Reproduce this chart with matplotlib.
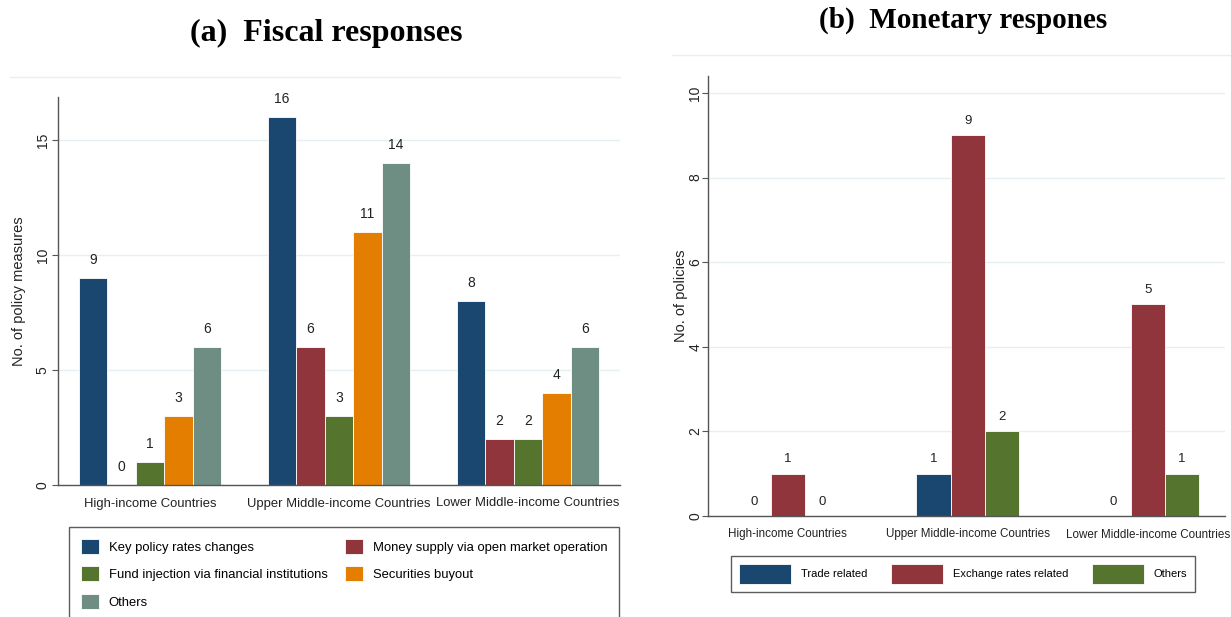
import matplotlib.pyplot as plt
import numpy as np
from matplotlib.lines import Line2D

plt.rcParams['font.family'] = ['Liberation Sans', 'DejaVu Sans']

groups = ["High-income Countries", "Upper Middle-income Countries", "Lower Middle-income Countries"]

# (a) fiscal responses
fiscal_series = ["Key policy rates changes", "Money supply via open market operation",
                 "Fund injection via financial institutions", "Securities buyout", "Others"]
key_rates = [9, 16, 8]
money_supply = [0, 6, 2]
fund_injection = [1, 3, 2]
securities = [3, 11, 4]
fiscal_others = [6, 14, 6]

# (b) monetary responses
monetary_series = ["Trade related", "Exchange rates related", "Others"]
trade = [0, 1, 0]
exchange = [1, 9, 5]
monetary_others = [0, 2, 1]

navy = "#1a476f"
maroon = "#90353b"
green = "#55752f"
orange = "#e37e00"
teal = "#6e8e84"
grid_c = "#e6eff1"

W, H = 1231, 617
fig = plt.figure(figsize=(W / 100, H / 100), dpi=100)
fig.patch.set_facecolor("white")


def px_axes(x0, x1, ytop, ybot):
    return fig.add_axes([x0 / W, 1 - ybot / H, (x1 - x0) / W, (ybot - ytop) / H])


def style(ax, ticks, ylab, fs, lfs, tpad, ypad):
    for s in ["top", "right"]:
        ax.spines[s].set_visible(False)
    for s in ["left", "bottom"]:
        ax.spines[s].set_color("#555555")
        ax.spines[s].set_linewidth(1.0)
    ax.set_yticks(ticks)
    ax.set_yticklabels([str(t) for t in ticks], rotation=90, va="center", fontsize=fs, color="#222222")
    ax.yaxis.grid(True, color=grid_c, linewidth=1.0)
    ax.set_axisbelow(True)
    ax.tick_params(axis="y", length=4, color="#555555", pad=tpad)
    ax.tick_params(axis="x", length=0, pad=9)
    ax.set_ylabel(ylab, fontsize=lfs, color="#222222", labelpad=ypad)


# ---- left panel
axL = px_axes(58, 620, 97, 485)
x = np.arange(len(groups))
wL = 0.151
left_data = [key_rates, money_supply, fund_injection, securities, fiscal_others]
left_cols = [navy, maroon, green, orange, teal]
handlesL = []
for i, (vals, c, name) in enumerate(zip(left_data, left_cols, fiscal_series)):
    pos = x + (i - 2) * wL
    b = axL.bar(pos, vals, wL, color=c, edgecolor="white", linewidth=0.6, label=name)
    handlesL.append(b)
    for p, v in zip(pos, vals):
        axL.text(p, v + 0.5, str(v), ha="center", va="bottom", fontsize=10, color="#222222")
axL.set_xlim(-0.487, 2.487)
axL.set_ylim(0, 16.87)
style(axL, [0, 5, 10, 15], "No. of policy measures", 10, 10.5, 2, 7)
axL.set_xticks(x)
axL.set_xticklabels(groups, fontsize=9.4, color="#222222")

order = [0, 2, 4, 1, 3]
legL = fig.legend([handlesL[i] for i in order], [fiscal_series[i] for i in order],
                  loc="upper left", bbox_to_anchor=(69 / W, 1 - 527 / H), ncol=2,
                  fontsize=9.4, frameon=True, fancybox=False, edgecolor="#333333",
                  handlelength=1.4, handleheight=1.4, handletextpad=0.75,
                  columnspacing=1.3, borderpad=0.9, labelspacing=0.95,
                  borderaxespad=0)
legL.get_frame().set_linewidth(1.0)

# ---- right panel
axR = px_axes(708, 1225, 76, 516)
wR = 0.19
right_data = [trade, exchange, monetary_others]
right_cols = [navy, maroon, green]
handlesR = []
for i, (vals, c, name) in enumerate(zip(right_data, right_cols, monetary_series)):
    pos = x + (i - 1) * wR
    b = axR.bar(pos, vals, wR, color=c, edgecolor="white", linewidth=0.6, label=name)
    handlesR.append(b)
    for p, v in zip(pos, vals):
        axR.text(p, v + 0.2, str(v), ha="center", va="bottom", fontsize=9.5, color="#222222")
axR.set_xlim(-0.444, 2.43)
axR.set_ylim(0, 10.4)
style(axR, [0, 2, 4, 6, 8, 10], "No. of policies", 10, 10.5, 0, 0)
axR.set_xticks(x)
axR.set_xticklabels(groups, fontsize=8.4, color="#222222")

legR = fig.legend(handlesR, monetary_series, loc="upper left",
                  bbox_to_anchor=(731 / W, 1 - 556 / H), ncol=3, fontsize=8,
                  frameon=True, fancybox=False, edgecolor="#333333",
                  handlelength=4.7, handleheight=2.4, handletextpad=0.9,
                  columnspacing=2.1, borderpad=0.7, borderaxespad=0)
legR.get_frame().set_linewidth(1.0)

# faint graph-region borders
fig.add_artist(Line2D([10 / W, 620 / W], [1 - 77 / H, 1 - 77 / H], color="#eeeeee", lw=1))
fig.add_artist(Line2D([672 / W, 1231 / W], [1 - 55 / H, 1 - 55 / H], color="#eeeeee", lw=1))

# panel titles
fig.text(326 / W, 1 - 33 / H, "(a)  Fiscal responses", ha="center", va="center",
         fontsize=23, fontweight="bold", family=["Liberation Serif", "DejaVu Serif"])
fig.text(963 / W, 1 - 20 / H, "(b)  Monetary respones", ha="center", va="center",
         fontsize=21, fontweight="bold", family=["Liberation Serif", "DejaVu Serif"])

fig.savefig("out.png", dpi=100)
